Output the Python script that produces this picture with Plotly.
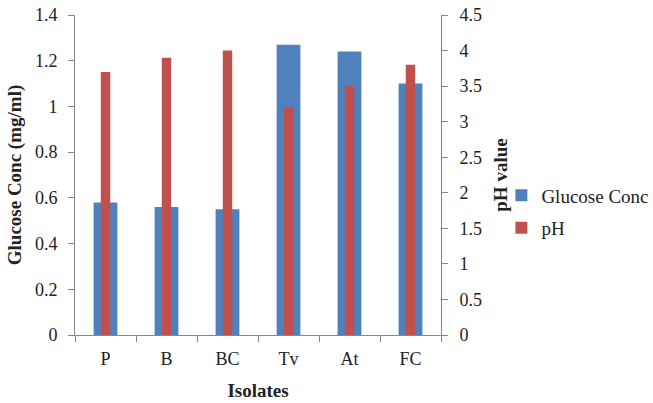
import plotly.graph_objects as go

isolates = ["P", "B", "BC", "Tv", "At", "FC"]
glucose_conc = [0.58, 0.56, 0.55, 1.27, 1.24, 1.10]
ph_values = [3.7, 3.9, 4.0, 3.2, 3.5, 3.8]

FONT = "Liberation Serif"
AXIS_COLOR = "#868686"
TEXT_COLOR = "#222222"

fig = go.Figure()
fig.add_trace(go.Bar(
    x=isolates, y=glucose_conc, name="Glucose Conc",
    marker=dict(color="#4F81BD", line=dict(width=0)),
    width=0.39, legendgroup="g", yaxis="y",
))
fig.add_trace(go.Bar(
    x=isolates, y=ph_values, name="pH",
    marker=dict(color="#C0504D", line=dict(width=0)),
    width=0.155, legendgroup="p", yaxis="y2",
))

fig.update_layout(
    width=653, height=403,
    margin=dict(l=75, r=212, t=15, b=68, pad=0, autoexpand=False),
    paper_bgcolor="white", plot_bgcolor="white",
    barmode="overlay",
    font=dict(family=FONT, size=18, color=TEXT_COLOR),
    showlegend=True,
    legend=dict(
        x=1.165, y=0.385, xanchor="left", yanchor="middle",
        font=dict(family=FONT, size=19, color=TEXT_COLOR),
        tracegroupgap=5, itemwidth=30,
        bgcolor="rgba(0,0,0,0)",
    ),
    xaxis=dict(
        type="category", range=[-0.5, 5.5], automargin=False,
        showline=True, linecolor=AXIS_COLOR, linewidth=1,
        ticks="outside", tickson="boundaries", ticklen=6, tickcolor=AXIS_COLOR,
        showgrid=False, zeroline=False,
        tickfont=dict(family=FONT, size=18, color=TEXT_COLOR),
        ticklabelstandoff=7,
        title=dict(text="<b>Isolates</b>", font=dict(family=FONT, size=19, color=TEXT_COLOR), standoff=16),
    ),
    yaxis=dict(
        range=[0, 1.4], dtick=0.2, tickformat="~g", automargin=False,
        showline=True, linecolor=AXIS_COLOR, linewidth=1,
        ticks="outside", ticklen=6, tickcolor=AXIS_COLOR,
        showgrid=False, zeroline=False,
        tickfont=dict(family=FONT, size=18, color=TEXT_COLOR),
        ticklabelstandoff=7,
        title=dict(text="<b>Glucose Conc (mg/ml)</b>", font=dict(family=FONT, size=19, color=TEXT_COLOR), standoff=8),
    ),
    yaxis2=dict(
        range=[0, 4.5], dtick=0.5, tickformat="~g", automargin=False,
        overlaying="y", side="right", anchor="x",
        showline=True, linecolor=AXIS_COLOR, linewidth=1,
        ticks="outside", ticklen=6, tickcolor=AXIS_COLOR,
        showgrid=False, zeroline=False,
        tickfont=dict(family=FONT, size=18, color=TEXT_COLOR),
        ticklabelstandoff=8,
        title=dict(text="<b>pH value</b>", font=dict(family=FONT, size=19, color=TEXT_COLOR), standoff=12),
    ),
)

fig.write_html("out.html")
